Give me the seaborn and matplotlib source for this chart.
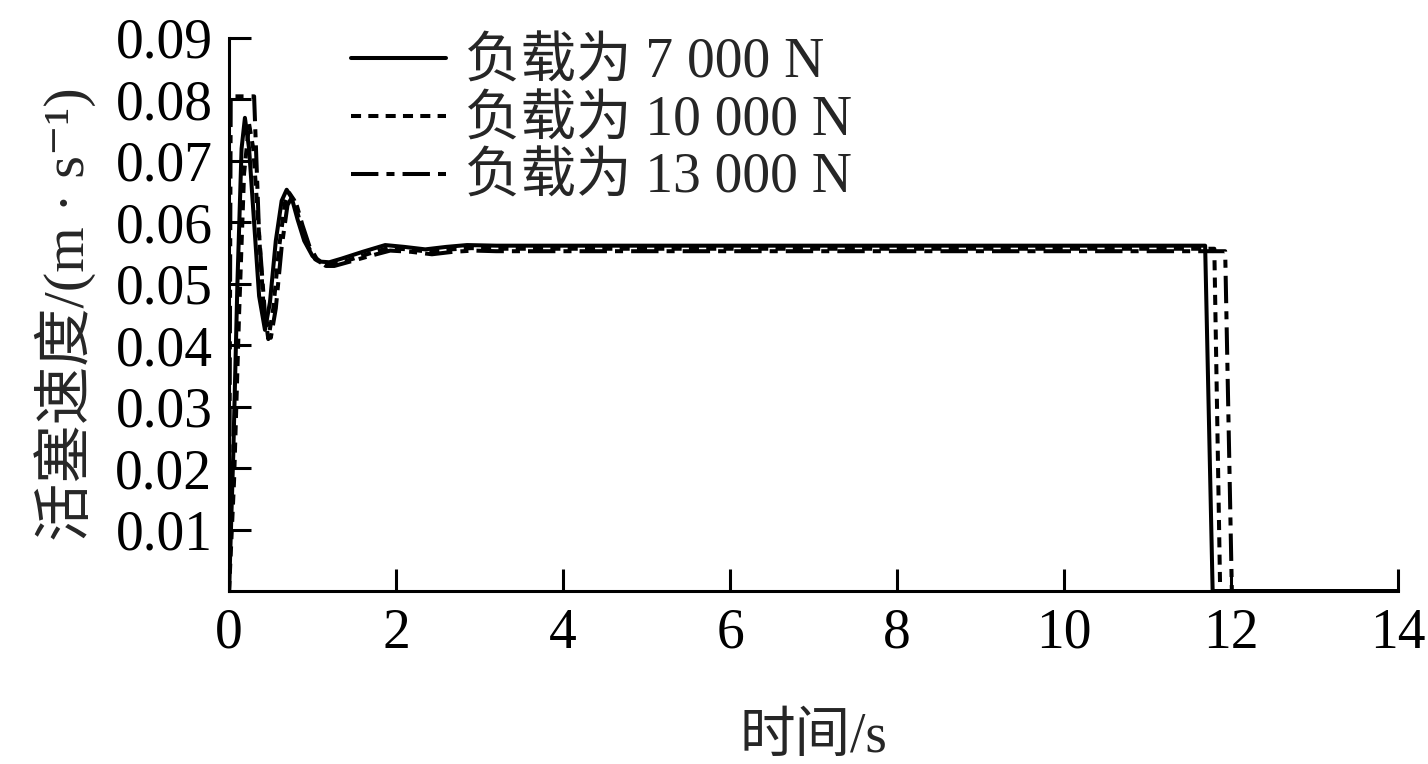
import numpy as np
import pandas as pd
import seaborn as sns
import matplotlib.pyplot as plt
from matplotlib.lines import Line2D

# --- data ---
labels = ["负载为 7 000 N", "负载为 10 000 N", "负载为 13 000 N"]

t_7000 = [0, 0.05, 0.10, 0.15, 0.19, 0.24, 0.30, 0.36, 0.43, 0.49, 0.56, 0.63, 0.69,
          0.75, 0.82, 0.90, 1.0, 1.1, 1.2, 1.35, 1.6, 1.87, 2.1, 2.35, 2.6, 2.85, 3.2,
          11.69, 11.78, 14]
v_7000 = [0, 0.022, 0.050, 0.072, 0.077, 0.072, 0.060, 0.048, 0.0425, 0.047, 0.057,
          0.0635, 0.0653, 0.0640, 0.0605, 0.0570, 0.0545, 0.0536, 0.0535, 0.0541, 0.0552,
          0.0563, 0.0560, 0.0556, 0.0560, 0.0563, 0.0562, 0.0562, 0, 0]

t_10000 = [0, 0.06, 0.12, 0.18, 0.24, 0.29, 0.35, 0.41, 0.47, 0.53, 0.60, 0.67, 0.72,
           0.78, 0.85, 0.93, 1.03, 1.13, 1.23, 1.4, 1.65, 1.9, 2.15, 2.4, 2.65, 2.9, 3.2,
           11.80, 11.87, 14]
v_10000 = [0, 0.018, 0.045, 0.068, 0.076, 0.072, 0.060, 0.047, 0.041, 0.046, 0.056,
           0.0632, 0.0648, 0.0636, 0.0600, 0.0565, 0.0540, 0.0532, 0.0531, 0.0537, 0.0548,
           0.0558, 0.0556, 0.0552, 0.0556, 0.0558, 0.0557, 0.0557, 0, 0]

t_13000 = [0, 0.02, 0.30, 0.36, 0.43, 0.50, 0.56, 0.63, 0.70, 0.75, 0.81, 0.88, 0.96,
           1.06, 1.16, 1.26, 1.42, 1.68, 1.93, 2.18, 2.43, 2.68, 2.93, 3.2, 11.93, 12.01, 14]
v_13000 = [0, 0.0805, 0.0805, 0.058, 0.045, 0.0412, 0.046, 0.056, 0.0628, 0.0640, 0.0628,
           0.0595, 0.0562, 0.0538, 0.0529, 0.0529, 0.0535, 0.0545, 0.0554, 0.0552, 0.0548,
           0.0552, 0.0554, 0.0553, 0.0553, 0, 0]

series_t = [t_7000, t_10000, t_13000]
series_v = [v_7000, v_10000, v_13000]

df = pd.concat(
    [pd.DataFrame({"t": t, "v": v, "load": lab})
     for t, v, lab in zip(series_t, series_v, labels)],
    ignore_index=True,
)

dash_map = {
    labels[0]: "",
    labels[1]: (2.5, 1.8),
    labels[2]: (6.8, 2.0, 2.0, 2.0),
}

sns.set_theme(style="ticks")
plt.rcParams["font.family"] = ["Liberation Serif", "Noto Sans CJK SC", "DejaVu Serif"]

fig = plt.figure(figsize=(14.28, 7.64), dpi=100)
ax = fig.add_axes([0.1604, 0.2264, 0.8186, 0.7239])

sns.lineplot(data=df, x="t", y="v", hue="load", style="load", units="load",
             palette=["black"] * 3, dashes=dash_map, estimator=None, sort=False,
             linewidth=2.9, ax=ax, legend=False)

ax.set_xlim(0, 14)
ax.set_ylim(0, 0.09)
ax.set_xticks(np.arange(0, 15, 2))
ax.set_yticks(np.arange(0.01, 0.091, 0.01))
ax.set_yticklabels([f"{y:.2f}" for y in np.arange(0.01, 0.091, 0.01)])
sns.despine(ax=ax)
for sp in ["left", "bottom"]:
    ax.spines[sp].set_linewidth(2.2)
    ax.spines[sp].set_color("black")
ax.tick_params(direction="in", length=16, width=2.2, labelsize=40, colors="black", pad=12)

ax.set_xlabel("时间/s", fontsize=40, labelpad=38)
ax.set_ylabel("活塞速度/(m · s⁻¹)", fontsize=42, labelpad=14)

handles = [Line2D([], [], color="black", linewidth=2.9, dashes=dash_map[lab]) if dash_map[lab]
           else Line2D([], [], color="black", linewidth=2.9) for lab in labels]
ax.legend(handles, labels, loc="upper left", bbox_to_anchor=(0.2225, 0.994),
          bbox_transform=fig.transFigure, frameon=False, fontsize=40,
          handlelength=1.7, handletextpad=0.35, labelspacing=0.1, borderaxespad=0.2)

fig.savefig("out.png", dpi=100)
